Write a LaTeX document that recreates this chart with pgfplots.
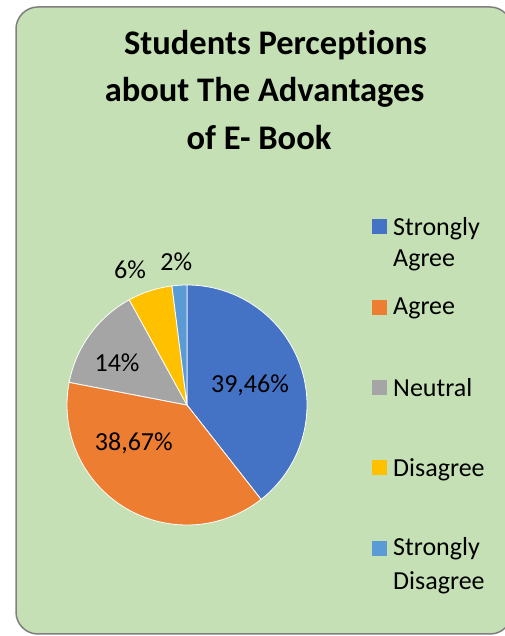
\documentclass[border=0pt]{standalone}
\usepackage{pgfplots}
\pgfplotsset{compat=1.18}
\usepackage{fontspec}
\setmainfont{Carlito}[Ligatures=NoCommon]
\definecolor{cSA}{HTML}{4472C4}
\definecolor{cA}{HTML}{ED7D31}
\definecolor{cN}{HTML}{A5A5A5}
\definecolor{cD}{HTML}{FFC000}
\definecolor{cSD}{HTML}{5B9BD5}
\definecolor{cBg}{HTML}{C5E0B4}
\definecolor{cBorder}{HTML}{7F7F7F}
% slice values (percent)
\def\vSA{39.46}
\def\vA{38.67}
\def\vN{14}
\def\vD{6}
\def\vSD{2}
\pgfmathsetmacro\tot{\vSA+\vA+\vN+\vD+\vSD}
\pgfmathsetmacro\aO{90}
\pgfmathsetmacro\aSA{\aO-\vSA/\tot*360}
\pgfmathsetmacro\aA{\aSA-\vA/\tot*360}
\pgfmathsetmacro\aN{\aA-\vN/\tot*360}
\pgfmathsetmacro\aD{\aN-\vD/\tot*360}
\pgfmathsetmacro\aSD{\aD-\vSD/\tot*360}
\tikzset{lbl/.style={font=\fontsize{26}{30}\selectfont, anchor=base, inner sep=0pt}}
\begin{document}
\begin{tikzpicture}[x=1pt,y=1pt]
\useasboundingbox (0,0) rectangle (505,636);
\fill[white] (0,0) rectangle (505,636);
\begin{scope}
\clip (0,0) rectangle (505,636);
\draw[draw=cBorder, line width=1.5pt, fill=cBg, rounded corners=22pt] (16,2) rectangle (512,629);
\end{scope}
% title
\begin{scope}[every node/.style={font=\fontsize{34.5}{40}\selectfont\bfseries, anchor=base}]
\node at (275.5,581) {Students Perceptions};
\node at (264.5,534) {about The Advantages};
\node at (259,486) {of E- Book};
\end{scope}
\begin{axis}[
  at={(187pt,231pt)}, anchor=center,
  scale only axis, width=240pt, height=240pt,
  xmin=-1, xmax=1, ymin=-1, ymax=1,
  hide axis, clip=false,
]
\addplot[fill=cSA, draw=white, line width=0.8pt, domain=\aSA:\aO, samples=90, variable=\t] ({cos(\t)},{sin(\t)}) -- (axis cs:0,0) -- cycle;
\addplot[fill=cA, draw=white, line width=0.8pt, domain=\aA:\aSA, samples=90, variable=\t] ({cos(\t)},{sin(\t)}) -- (axis cs:0,0) -- cycle;
\addplot[fill=cN, draw=white, line width=0.8pt, domain=\aN:\aA, samples=40, variable=\t] ({cos(\t)},{sin(\t)}) -- (axis cs:0,0) -- cycle;
\addplot[fill=cD, draw=white, line width=0.8pt, domain=\aD:\aN, samples=20, variable=\t] ({cos(\t)},{sin(\t)}) -- (axis cs:0,0) -- cycle;
\addplot[fill=cSD, draw=white, line width=0.8pt, domain=\aSD:\aD, samples=10, variable=\t] ({cos(\t)},{sin(\t)}) -- (axis cs:0,0) -- cycle;
\node[lbl] at (axis cs:0.525,0.108) {39,46\%};
\node[lbl] at (axis cs:-0.443,-0.381) {38,67\%};
\node[lbl] at (axis cs:-0.583,0.283) {14\%};
\node[lbl] at (axis cs:-0.475,1.056) {6\%};
\node[lbl] at (axis cs:-0.089,1.119) {2\%};
\end{axis}
% legend
\begin{scope}[every node/.style={font=\fontsize{26}{30}\selectfont, anchor=base west, inner sep=0pt}]
\fill[cSA] (372,401.5) rectangle (387,416.5);
\fill[cA] (372,320.5) rectangle (387,335.5);
\fill[cN] (372,240.5) rectangle (387,255.5);
\fill[cD] (372,160.5) rectangle (387,175.5);
\fill[cSD] (372,79.5) rectangle (387,94.5);
\node at (393,400) {Strongly};
\node at (393,369) {Agree};
\node at (393,321) {Agree};
\node at (393,239) {Neutral};
\node at (393,159) {Disagree};
\node at (393,80) {Strongly};
\node at (393,46) {Disagree};
\end{scope}
\end{tikzpicture}
\end{document}
